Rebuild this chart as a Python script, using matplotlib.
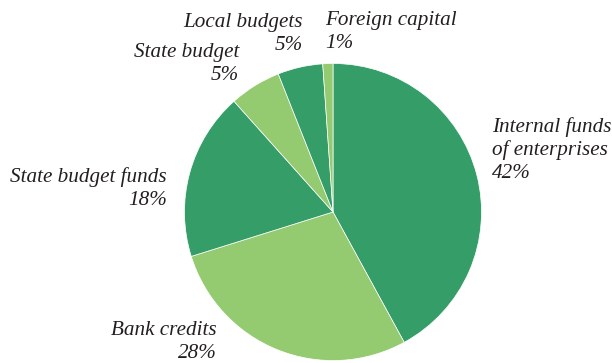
import matplotlib
matplotlib.use("Agg")
import matplotlib.pyplot as plt

categories = ["Internal funds\nof enterprises", "Bank credits", "State budget funds",
              "State budget", "Local budgets", "Foreign capital"]
shares = [42.0, 28.1, 18.2, 5.6, 4.9, 1.1]
pct_labels = ["42%", "28%", "18%", "5%", "5%", "1%"]

DARK = "#359d68"
LIGHT = "#94ca70"
colors = [DARK, LIGHT, DARK, LIGHT, DARK, LIGHT]

W, H = 612, 363
fig = plt.figure(figsize=(W / 100, H / 100), dpi=100)
cx, cy, r = 333, 212, 150
ax = fig.add_axes([(cx - r) / W, (H - cy - r) / H, 2 * r / W, 2 * r / H])
ax.pie(shares, colors=colors, startangle=90, counterclock=False, radius=1,
       wedgeprops=dict(edgecolor="white", linewidth=0.5))
ax.set_xlim(-1.01, 1.01)
ax.set_ylim(-1.01, 1.01)
ax.set_aspect("equal")
ax.axis("off")

font = dict(family="Liberation Serif", style="italic", size=15.2, color="#231f20")

# (pixel x, pixel baseline y of first line, ha)
label_pos = [
    (492, 132, "left"),
    (217, 335, "right"),
    (167, 182, "right"),
    (239, 57, "right"),
    (303, 27, "right"),
    (325, 25, "left"),
]
step = 23
for cat, pct, (x, y, ha) in zip(categories, pct_labels, label_pos):
    lines = cat.split("\n") + [pct]
    for i, line in enumerate(lines):
        fig.text(x / W, 1 - (y + i * step) / H, line, ha=ha, va="baseline", **font)

fig.savefig("out.png", dpi=100)
